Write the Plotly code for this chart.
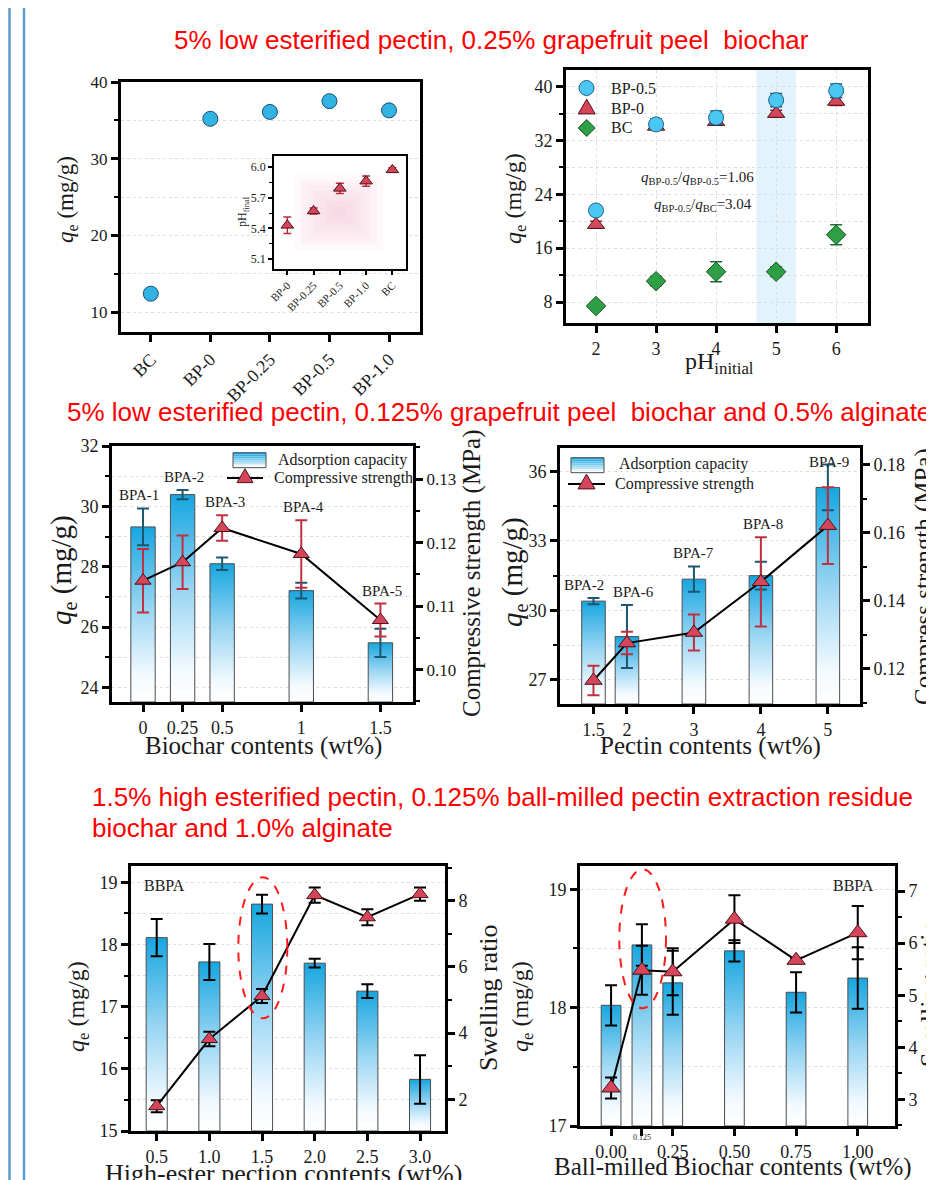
import plotly.graph_objects as go

# The page body adds an 8px margin, so the figure is sized to fill the rest of the window
OFF = 8
W, H = 934 - OFF, 1180 - OFF
SERIF = "Liberation Serif"
SANS = "Liberation Sans"


def fx(px):
    return (px - OFF) / W


def fy(py):
    return 1 - (py - OFF) / H


# ---------------- data ----------------
# Panel A: 5% LE pectin, 0.25% grapefruit peel biochar
a_cats = ["BC", "BP-0", "BP-0.25", "BP-0.5", "BP-1.0"]
a_qe = [12.4, 35.2, 36.1, 37.5, 36.3]
a_qe_err = [0.5, 0.4, 0.4, 0.4, 0.4]
# Inset: final pH
inset_cats = ["BP-0", "BP-0.25", "BP-0.5", "BP-1.0", "BC"]
inset_ph = [5.43, 5.57, 5.79, 5.86, 5.97]
inset_ph_err = [0.08, 0.03, 0.05, 0.05, 0.02]
# Panel B: qe vs initial pH
b_ph = [2, 3, 4, 5, 6]
b_bp05 = [21.6, 34.4, 35.4, 38.0, 39.4]
b_bp05_err = [0.6, 0.8, 1.0, 1.0, 1.0]
b_bp0 = [19.5, 34.1, 34.8, 36.0, 37.8]
b_bp0_err = [0.5, 0.5, 0.5, 0.5, 0.6]
b_bc = [7.4, 11.1, 12.5, 12.5, 18.0]
b_bc_err = [0.5, 0.7, 1.5, 0.7, 1.5]
# Panel C: biochar contents
c_x = [0, 0.25, 0.5, 1, 1.5]
c_xtext = ["0", "0.25", "0.5", "1", "1.5"]
c_names = ["BPA-1", "BPA-2", "BPA-3", "BPA-4", "BPA-5"]
c_qe = [29.32, 30.39, 28.10, 27.21, 25.48]
c_qe_err = [0.61, 0.15, 0.21, 0.26, 0.47]
c_cs = [0.1140, 0.1169, 0.1223, 0.1182, 0.1078]
c_cs_err = [0.0050, 0.0042, 0.0020, 0.0053, 0.0026]
# Panel D: pectin contents
d_x = [1.5, 2, 3, 4, 5]
d_xtext = ["1.5", "2", "3", "4", "5"]
d_names = ["BPA-2", "BPA-6", "BPA-7", "BPA-8", "BPA-9"]
d_qe = [30.40, 28.87, 31.35, 31.50, 35.31]
d_qe_err = [0.13, 1.36, 0.55, 0.60, 0.99]
d_cs = [0.1166, 0.1276, 0.1307, 0.1456, 0.1621]
d_cs_err = [0.0043, 0.0033, 0.0053, 0.0131, 0.0113]
# Panel E: high-ester pectin contents
e_x = [0.5, 1.0, 1.5, 2.0, 2.5, 3.0]
e_qe = [18.11, 17.72, 18.65, 17.70, 17.25, 15.83]
e_qe_err = [0.30, 0.29, 0.15, 0.07, 0.11, 0.39]
e_sr = [1.79, 3.82, 5.12, 8.17, 7.50, 8.20]
e_sr_err = [0.18, 0.22, 0.21, 0.23, 0.24, 0.20]
# Panel F: ball-milled biochar contents
f_x = [0, 0.125, 0.25, 0.5, 0.75, 1.0]
f_xtext = ["0.00", "", "0.25", "0.50", "0.75", "1.00"]
f_small_tick = "0.125"
f_qe = [18.02, 18.53, 18.21, 18.48, 18.13, 18.25]
f_qe_err = [0.17, 0.175, 0.27, 0.09, 0.17, 0.26]
f_sr = [3.22, 5.48, 5.45, 6.46, 5.67, 6.20]
f_sr_err = [0.20, 0.47, 0.45, 0.46, 0.05, 0.51]

# ---------------- geometry (px in the window) ----------------
A_X, A_Y = (121, 420), (82, 332)
IN_X, IN_Y = (274, 406), (156, 269)
B_X, B_Y = (566, 868), (70, 323)
C_X, C_Y = (112, 413), (446, 702)
D_X, D_Y = (560, 860), (448, 704)
E_X, E_Y = (131, 445), (866, 1131)
F_X, F_Y = (580, 895), (866, 1126)

A_YR = [7.4, 40]
IN_YR = [5.005, 6.105]
B_XR, B_YR = [1.5, 6.53], [4.88, 42.48]
C_XR, C_YL, C_YR = [-0.196, 1.706], [23.52, 32], [0.0949, 0.1352]
D_XR, D_YL, D_YR = [1.0, 5.48], [25.96, 37.01], [0.1097, 0.1849]
E_XR, E_YL, E_YR = [0.256, 3.237], [15, 19.263], [1.04, 9.05]
F_XR, F_YL, F_YR = [-0.126, 1.151], [17, 19.197], [2.49, 7.48]

BLUE_C = "#33b3e4"
BLUE_L = "#4cc7f3"
RED = "#d6465a"
GREEN = "#2f9f45"
BAR_CS = [[0, "#ffffff"], [0.15, "#f3faff"], [0.55, "#96d4f2"], [1, "#16a6e0"]]

fig = go.Figure()


def dom_x(p):
    return [fx(p[0]), fx(p[1])]


def dom_y(p):
    return [fy(p[1]), fy(p[0])]


def base_axis(size, lw=3):
    return dict(showline=True, linecolor="black", linewidth=lw, mirror=True,
                ticks="outside", ticklen=7 if lw > 2 else 4, tickwidth=2.5 if lw > 2 else 1.5,
                tickcolor="black",
                tickfont=dict(family=SERIF, size=size, color="#1a1a1a"),
                showgrid=False, zeroline=False, fixedrange=True)


GRID = dict(showgrid=True, gridcolor="#dedede", griddash="dot", gridwidth=1)


def minor(dt, grid=True, ln=4):
    m = dict(ticks="outside", ticklen=ln, tickwidth=2, tickcolor="black", dtick=dt)
    if grid:
        m.update(GRID)
    return m


def add_bars(xs, vals, width, xa, ya, base):
    for xv, v in zip(xs, vals):
        fig.add_trace(go.Scatter(
            x=[xv - width / 2, xv + width / 2, xv + width / 2, xv - width / 2, xv - width / 2],
            y=[base, base, v, v, base], mode="lines", fill="toself",
            fillgradient=dict(type="vertical", colorscale=BAR_CS),
            line=dict(color="#4d4d4d", width=1),
            xaxis=xa, yaxis=ya, showlegend=False, hoverinfo="skip"))


def add_err(xs, vals, errs, xa, ya, color, width=6, thick=2):
    fig.add_trace(go.Scatter(
        x=xs, y=vals, mode="markers", marker=dict(size=2, opacity=0),
        error_y=dict(type="data", array=errs, color=color, thickness=thick, width=width),
        xaxis=xa, yaxis=ya, showlegend=False, hoverinfo="skip"))


def add_tri_line(xs, vals, errs, xa, ya, ecolor, size):
    fig.add_trace(go.Scatter(
        x=xs, y=vals, mode="lines+markers", line=dict(color="black", width=2),
        marker=dict(symbol="triangle-up", size=size, color=RED, line=dict(color="#4a1018", width=1)),
        error_y=dict(type="data", array=errs, color=ecolor, thickness=2, width=6),
        xaxis=xa, yaxis=ya, showlegend=False))


# ---- Panel A ----
fig.add_trace(go.Scatter(
    x=a_cats, y=a_qe, mode="markers",
    marker=dict(symbol="circle", size=15, color=BLUE_C, line=dict(color="#15506f", width=1)),
    error_y=dict(type="data", array=a_qe_err, color="#15506f", thickness=1.5, width=6),
    xaxis="x", yaxis="y", showlegend=False))
# inset
fig.add_trace(go.Scatter(
    x=inset_cats, y=inset_ph, mode="markers",
    marker=dict(symbol="triangle-up", size=11, color=RED, line=dict(color="#4a1018", width=1)),
    error_y=dict(type="data", array=inset_ph_err, color="#c22a3e", thickness=1.5, width=4),
    xaxis="x2", yaxis="y2", showlegend=False))

# ---- Panel B ----
fig.add_trace(go.Scatter(
    x=b_ph, y=b_bc, mode="markers", name="BC",
    marker=dict(symbol="diamond", size=15, color=GREEN, line=dict(color="#17522a", width=1)),
    error_y=dict(type="data", array=b_bc_err, color="#1d6e31", thickness=1.5, width=6),
    xaxis="x3", yaxis="y3", showlegend=False))
fig.add_trace(go.Scatter(
    x=b_ph, y=b_bp0, mode="markers", name="BP-0",
    marker=dict(symbol="triangle-up", size=15, color=RED, line=dict(color="#4a1018", width=1)),
    error_y=dict(type="data", array=b_bp0_err, color="#a82536", thickness=1.5, width=6),
    xaxis="x3", yaxis="y3", showlegend=False))
fig.add_trace(go.Scatter(
    x=b_ph, y=b_bp05, mode="markers", name="BP-0.5",
    marker=dict(symbol="circle", size=15, color=BLUE_L, line=dict(color="#1c6285", width=1)),
    error_y=dict(type="data", array=b_bp05_err, color="#1c6285", thickness=1.5, width=6),
    xaxis="x3", yaxis="y3", showlegend=False))

# ---- Panel C ----
add_bars(c_x, c_qe, 0.154, "x4", "y4", C_YL[0])
add_err(c_x, c_qe, c_qe_err, "x4", "y4", "#1d5670")
add_tri_line(c_x, c_cs, c_cs_err, "x4", "y5", "#c0303f", 14)

# ---- Panel D ----
add_bars(d_x, d_qe, 0.352, "x5", "y6", D_YL[0])
add_err(d_x, d_qe, d_qe_err, "x5", "y6", "#1d5670")
add_tri_line(d_x, d_cs, d_cs_err, "x5", "y7", "#c0303f", 15)

# ---- Panel E ----
add_bars(e_x, e_qe, 0.2, "x6", "y8", E_YL[0])
add_err(e_x, e_qe, e_qe_err, "x6", "y8", "black")
add_tri_line(e_x, e_sr, e_sr_err, "x6", "y9", "black", 14)

# ---- Panel F ----
add_bars(f_x, f_qe, 0.08, "x7", "y10", F_YL[0])
add_err(f_x, f_qe, f_qe_err, "x7", "y10", "black")
add_tri_line(f_x, f_sr, f_sr_err, "x7", "y11", "black", 16)

# ---------------- axes ----------------
lay = {}
lay["xaxis"] = dict(base_axis(18), domain=dom_x(A_X), anchor="y", type="category",
                    range=[-0.5, 4.52], tickangle=-45)
lay["yaxis"] = dict(base_axis(17), domain=dom_y(A_Y), anchor="x", range=A_YR,
                    tick0=0, dtick=10, minor=minor(5), **GRID)
lay["xaxis2"] = dict(base_axis(11, lw=1.5), domain=dom_x(IN_X), anchor="y2", type="category",
                     range=[-0.507, 4.52], tickangle=-45)
lay["yaxis2"] = dict(base_axis(12, lw=1.5), domain=dom_y(IN_Y), anchor="x2", range=IN_YR,
                     tick0=5.1, dtick=0.3, tickformat=".1f",
                     minor=dict(ticks="outside", ticklen=3, tickwidth=1, tickcolor="black", dtick=0.15))
lay["xaxis3"] = dict(base_axis(18), domain=dom_x(B_X), anchor="y3", range=B_XR, dtick=1, **GRID)
lay["yaxis3"] = dict(base_axis(18), domain=dom_y(B_Y), anchor="x3", range=B_YR,
                     tick0=0, dtick=8, minor=minor(4), **GRID)
lay["xaxis4"] = dict(base_axis(18), domain=dom_x(C_X), anchor="y4", range=C_XR,
                     tickvals=c_x, ticktext=c_xtext)
lay["yaxis4"] = dict(base_axis(18), domain=dom_y(C_Y), anchor="x4", range=C_YL,
                     tick0=0, dtick=2, minor=minor(1), **GRID)
lay["yaxis5"] = dict(base_axis(17), overlaying="y4", side="right", anchor="x4", range=C_YR,
                     tick0=0, dtick=0.01, tickformat=".2f", mirror=False,
                     minor=minor(0.005, grid=False))
lay["xaxis5"] = dict(base_axis(18), domain=dom_x(D_X), anchor="y6", range=D_XR,
                     tickvals=d_x, ticktext=d_xtext)
lay["yaxis6"] = dict(base_axis(18), domain=dom_y(D_Y), anchor="x5", range=D_YL,
                     tick0=0, dtick=3, minor=minor(1.5), **GRID)
lay["yaxis7"] = dict(base_axis(18), overlaying="y6", side="right", anchor="x5", range=D_YR,
                     tick0=0, dtick=0.02, tickformat=".2f", mirror=False,
                     minor=minor(0.01, grid=False))
lay["xaxis6"] = dict(base_axis(18), domain=dom_x(E_X), anchor="y8", range=E_XR,
                     tick0=0, dtick=0.5, tickformat=".1f")
lay["yaxis8"] = dict(base_axis(18), domain=dom_y(E_Y), anchor="x6", range=E_YL,
                     tick0=0, dtick=1, minor=minor(0.5), **GRID)
lay["yaxis9"] = dict(base_axis(18), overlaying="y8", side="right", anchor="x6", range=E_YR,
                     tick0=0, dtick=2, mirror=False, minor=minor(1, grid=False))
lay["xaxis7"] = dict(base_axis(18), domain=dom_x(F_X), anchor="y10", range=F_XR,
                     tickvals=f_x, ticktext=f_xtext)
lay["yaxis10"] = dict(base_axis(18), domain=dom_y(F_Y), anchor="x7", range=F_YL,
                      tick0=0, dtick=1, minor=minor(0.5), **GRID)
lay["yaxis11"] = dict(base_axis(18), overlaying="y10", side="right", anchor="x7", range=F_YR,
                      tick0=0, dtick=1, mirror=False, minor=minor(0.5, grid=False))

# ---------------- shapes ----------------
shapes = []
for xl in (9.5, 24):
    shapes.append(dict(type="line", xref="paper", yref="paper", x0=fx(xl), x1=fx(xl), y0=0, y1=1,
                       line=dict(color="#5b9bc9", width=2.5)))
# pH=5 highlight band
shapes.append(dict(type="rect", xref="x3", yref="y3", x0=4.67, x1=5.33, y0=B_YR[0], y1=B_YR[1],
                   fillcolor="#e3f3fc", line=dict(width=0), layer="below"))
# pink glow in inset
for k in range(7):
    f = k / 7.0
    shapes.append(dict(type="rect", xref="x2", yref="y2",
                       x0=0.3 + 1.65 * f, x1=3.65 - 1.65 * f,
                       y0=5.19 + 0.36 * f, y1=5.92 - 0.36 * f,
                       fillcolor="rgba(236,150,186,0.06)", line=dict(width=0), layer="below"))


def hex_mix(c1, c2, t):
    a = [int(c1[i:i + 2], 16) for i in (1, 3, 5)]
    b = [int(c2[i:i + 2], 16) for i in (1, 3, 5)]
    return "#%02x%02x%02x" % tuple(round(a[i] + (b[i] - a[i]) * t) for i in range(3))


def grad_box(x0, x1, y0, y1, n=8):
    step = (y1 - y0) / n
    for i in range(n):
        col = hex_mix("#16a6e0", "#ffffff", i / (n - 1))
        shapes.append(dict(type="rect", xref="paper", yref="paper",
                           x0=fx(x0), x1=fx(x1), y0=fy(y0 + step * (i + 1)), y1=fy(y0 + step * i),
                           fillcolor=col, line=dict(width=0)))
    shapes.append(dict(type="rect", xref="paper", yref="paper", x0=fx(x0), x1=fx(x1),
                       y0=fy(y1), y1=fy(y0), line=dict(color="#4d4d4d", width=1)))


def tri_path(cx, cy, w):
    h = w * 0.866
    pts = [(cx - w / 2, cy + h / 3), (cx + w / 2, cy + h / 3), (cx, cy - 2 * h / 3)]
    return "M " + " L ".join("%f,%f" % (fx(px), fy(py)) for px, py in pts) + " Z"


def diamond_path(cx, cy, r):
    pts = [(cx - r, cy), (cx, cy - r), (cx + r, cy), (cx, cy + r)]
    return "M " + " L ".join("%f,%f" % (fx(px), fy(py)) for px, py in pts) + " Z"


def legend_line_tri(x0, x1, y, w):
    shapes.append(dict(type="line", xref="paper", yref="paper", x0=fx(x0), x1=fx(x1), y0=fy(y), y1=fy(y),
                       line=dict(color="black", width=2)))
    shapes.append(dict(type="path", xref="paper", yref="paper", path=tri_path((x0 + x1) / 2, y, w),
                       fillcolor=RED, line=dict(color="#4a1018", width=1)))


grad_box(233, 266, 452.7, 467.7)
legend_line_tri(227, 263, 478, 16)
grad_box(571, 604, 457.7, 472.7)
legend_line_tri(568, 605, 484, 17)

# panel B legend symbols
shapes.append(dict(type="circle", xref="paper", yref="paper", x0=fx(579), x1=fx(594), y0=fy(95.5), y1=fy(80.5),
                   fillcolor=BLUE_L, line=dict(color="#1c6285", width=1)))
shapes.append(dict(type="path", xref="paper", yref="paper", path=tri_path(586.7, 109, 17),
                   fillcolor=RED, line=dict(color="#4a1018", width=1)))
shapes.append(dict(type="path", xref="paper", yref="paper", path=diamond_path(586.7, 128, 8.5),
                   fillcolor=GREEN, line=dict(color="#17522a", width=1)))

# dashed ellipses
shapes.append(dict(type="circle", xref="paper", yref="paper", x0=fx(238.3), x1=fx(287.3),
                   y0=fy(1018.3), y1=fy(877.3), line=dict(color="#ff1a1a", width=2, dash="dash")))
shapes.append(dict(type="circle", xref="paper", yref="paper", x0=fx(619.3), x1=fx(666),
                   y0=fy(1008.3), y1=fy(869.3), line=dict(color="#ff1a1a", width=2, dash="dash")))

# ---------------- annotations ----------------
ann = []


def text(x, y, s, size, family=SERIF, color="#1a1a1a", angle=0, xanchor="center", yanchor="middle"):
    ann.append(dict(x=fx(x), y=fy(y), xref="paper", yref="paper", text=s, showarrow=False,
                    font=dict(family=family, size=size, color=color), textangle=angle,
                    xanchor=xanchor, yanchor=yanchor))


RED_T = "#ff0000"
text(492, 40, "5% low esterified pectin, 0.25% grapefruit peel&nbsp; biochar", 26, SANS, RED_T)
text(65, 412, "5% low esterified pectin, 0.125% grapefruit peel&nbsp; biochar and 0.5% alginate", 26, SANS,
     RED_T, xanchor="left")
text(90, 797, "1.5% high esterified pectin, 0.125% ball-milled pectin extraction residue", 26, SANS,
     RED_T, xanchor="left")
text(90, 828, "biochar and 1.0% alginate", 26, SANS, RED_T, xanchor="left")

QE = "<i>q</i><sub>e</sub> (mg/g)"
# Panel A titles
text(67, 200, QE, 23, angle=-90)
text(243, 212, "pH<sub>final</sub>", 12, angle=-90)
# Panel B
text(515, 198, QE, 24, angle=-90)
text(719, 363, "pH<sub>initial</sub>", 24)
text(609, 88, "BP-0.5", 16, xanchor="left")
text(609, 108, "BP-0", 16, xanchor="left")
text(609, 128, "BC", 16, xanchor="left")
text(697, 178, "<i>q</i><sub>BP-0.5</sub>/<i>q</i><sub>BP-0.5</sub>=1.06", 15)
text(703, 205, "<i>q</i><sub>BP-0.5</sub>/<i>q</i><sub>BC</sub>=3.04", 15)
# Panel C
text(63, 570, QE, 29, angle=-90)
text(472, 573, "Compressive strength (MPa)", 25, angle=-90)
text(263, 746, "Biochar contents (wt%)", 25)
text(276, 460, "Adsorption capacity", 16, xanchor="left")
text(272, 478, "Compressive strength", 16, xanchor="left")
# Panel D
text(514, 572, QE, 29, angle=-90)
text(924, 577, "Compress strength (MPa)", 25, angle=-90)
text(710, 746, "Pectin contents (wt%)", 25)
text(617, 464, "Adsorption capacity", 16, xanchor="left")
text(613, 484, "Compressive strength", 16, xanchor="left")
# Panel E
text(78, 1007, QE, 24, angle=-90)
text(488, 998, "Swelling ratio", 26, angle=-90)
text(283, 1173, "High-ester pection contents (wt%)", 26)
text(164, 885, "BBPA", 16)
# Panel F
text(522, 1007, QE, 24, angle=-90)
text(929, 994, "Swelling ratio", 26, angle=-90)
text(733, 1167, "Ball-milled Biochar contents (wt%)", 25)
text(853, 885, "BBPA", 16)
# small 0.125 tick label on panel F
ann.append(dict(x=f_x[1], y=fy(1137), xref="x7", yref="paper", text=f_small_tick, showarrow=False,
                font=dict(family=SERIF, size=8, color="#1a1a1a"), xanchor="center", yanchor="middle"))


# BPA sample labels placed above the taller error bar
def sample_labels(xs, names, qe, qe_err, cs, cs_err, ypx, yl, yr, xa, dxs):
    top_px, bot_px = ypx
    span = bot_px - top_px
    for xv, nm, q, qe_, c, ce, dx in zip(xs, names, qe, qe_err, cs, cs_err, dxs):
        p1 = top_px + (yl[1] - (q + qe_)) / (yl[1] - yl[0]) * span
        p2 = top_px + (yr[1] - (c + ce)) / (yr[1] - yr[0]) * span
        center = max(min(p1, p2) - 13, top_px + 14)
        ann.append(dict(x=xv, y=fy(center), xref=xa, yref="paper", text=nm, showarrow=False,
                        font=dict(family=SERIF, size=15, color="#1a1a1a"), xanchor="center",
                        yanchor="middle", xshift=dx))


sample_labels(c_x, c_names, c_qe, c_qe_err, c_cs, c_cs_err, C_Y, C_YL, C_YR, "x4", [-4, 1, 3, 2, 2])
sample_labels(d_x, d_names, d_qe, d_qe_err, d_cs, d_cs_err, D_Y, D_YL, D_YR, "x5", [-9, 7, 0, 2, 1])

fig.update_layout(
    width=W, height=H, margin=dict(l=0, r=0, t=0, b=0, autoexpand=False),
    paper_bgcolor="white", plot_bgcolor="white",
    showlegend=False, shapes=shapes, annotations=ann,
    font=dict(family=SERIF, color="#1a1a1a"),
    **lay)

fig.write_html("out.html")
